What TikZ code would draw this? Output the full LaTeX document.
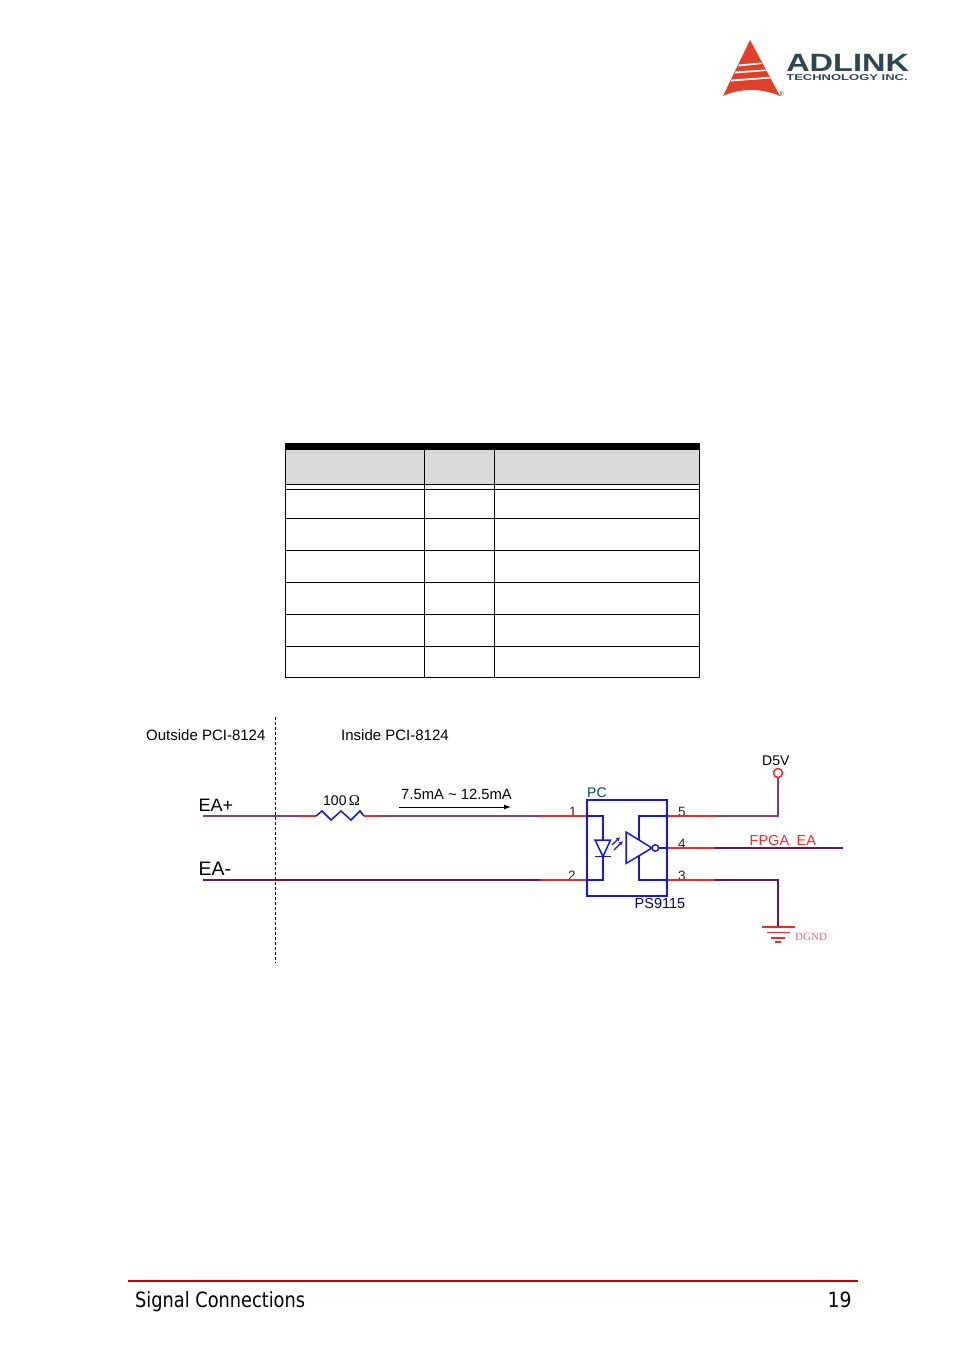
\documentclass[tikz,border=0pt]{standalone}
\usepackage{fontspec}
\usetikzlibrary{arrows.meta}
\setmainfont{Liberation Sans}
\newfontfamily\footfnt{DejaVu Sans Condensed}
\newfontfamily\serfnt{Liberation Serif}
\definecolor{wireA}{HTML}{8C3D66}
\definecolor{wireB}{HTML}{6E1748}
\definecolor{redw}{HTML}{F02828}
\definecolor{blu}{HTML}{1414F0}
\definecolor{grayh}{HTML}{D9D9D9}
\definecolor{logored}{HTML}{E0402A}
\definecolor{logotxt}{HTML}{2F4650}
\newcommand{\fsz}[1]{\fontsize{#1}{#1}\selectfont}
\tikzset{
 lbl/.style={inner sep=0pt,anchor=base west,text=black},
 wa/.style={draw=wireA,line width=1.6pt},
 wb/.style={draw=wireB,line width=1.6pt},
 wr/.style={draw=redw,line width=1.6pt},
 bl/.style={draw=blu,line width=1.5pt},
 tb/.style={draw=black,line width=1pt},
 term/.style={circle,draw=redw,line width=1.5pt,fill=white,minimum size=9pt,inner sep=0pt},
 bub/.style={circle,draw=blu,line width=1.4pt,fill=white,minimum size=6.5pt,inner sep=0pt},
}
\begin{document}
\begin{tikzpicture}[x=1pt,y=-1pt]
\useasboundingbox (0,0) rectangle (954,1352);
\fill[white] (0,0) rectangle (954,1352);
% logo
\fill[logored] (750,40) -- (780,96) .. controls (762,88) and (740,88) .. (723,96) -- cycle;
\fill[white] (739,64.5) -- (761,62.5) -- (762,64) -- (738,66.5) -- cycle;
\fill[white] (735.5,71.5) -- (765,69.5) -- (766,71) -- (734.5,73.5) -- cycle;
\fill[white] (731.5,79.5) -- (769,77) -- (770,78.5) -- (730.5,81.5) -- cycle;
\node[lbl,text=logotxt,xscale=1.3] (adl) at (786,71.5) {\fsz{25}\bfseries ADLINK};
\node[lbl,text=logotxt,xscale=1.53] (tech) at (786,80.5) {\fsz{8.5}\bfseries TECHNOLOGY INC.};
\node[lbl,text=logotxt] (reg) at (778.5,96) {\fsz{7}®};
% table
\fill[grayh] (285,450) rectangle (699.5,484);
\fill[black] (285,443) rectangle (700,450);
\coordinate (tl) at (285.5,450); \coordinate (tr) at (699.5,450);
\coordinate (bl1) at (285.5,677.5); \coordinate (br1) at (699.5,677.5);
\draw[tb] (tl) -- (bl1) -- (br1) -- (tr);
\draw[tb] (424.5,450) -- (424.5,677.5);
\draw[tb] (494.5,450) -- (494.5,677.5);
\foreach \yy in {484.5,489,518.5,550.5,582.5,614.5,646.5}
  \draw[tb] (285.5,\yy) -- (699.5,\yy);
% separator
\coordinate (sepT) at (275,717); \coordinate (sepB) at (275,963);
% labels
\node[lbl] (out) at (146,740) {\fsz{15}Outside PCI-8124};
\node[lbl] (ins) at (341,740) {\fsz{15}Inside PCI-8124};
\node[lbl] (eap) at (198.5,811) {\fsz{18}EA+};
\node[lbl] (eam) at (198.5,875) {\fsz{19.5}EA-};
\node[lbl] (ohm) at (323,805) {\fsz{14}100\,\serfnt\fsz{15}Ω};
\node[lbl] (cur) at (401,799) {\fsz{14.8}7.5mA \char"7E{} 12.5mA};
\node[lbl] (d5v) at (762,765) {\fsz{14}D5V};
\node[lbl,text=teal!60!black] (pc) at (587,797) {\fsz{14}PC};
\node[lbl,text=blue!50!black] (ps) at (634.5,908) {\fsz{14.5}PS9115};
\node[lbl,text=black!85] (p1) at (569,816) {\fsz{13.5}1};
\node[lbl,text=black!85] (p2) at (568,880) {\fsz{13.5}2};
\node[lbl,text=black!85] (p5) at (678,816) {\fsz{13.5}5};
\node[lbl,text=black!85] (p4) at (678,848) {\fsz{13.5}4};
\node[lbl,text=black!85] (p3) at (678,880) {\fsz{13.5}3};
\node[lbl,text=redw] (fpga) at (749.5,845) {\fsz{14.5}FPGA\hspace{3.5pt} EA};
\node[lbl,text=redw!70] (dgnd) at (795,940) {\serfnt\fsz{11}DGND};
\node[lbl,text=black,xscale=0.94] (sig) at (135,1307) {\footfnt\fsz{21}Signal Connections};
\node[lbl,text=black] (pg) at (827.5,1307) {\footfnt\fsz{21}19};
% junctions
\coordinate (ap) at (203,816); \coordinate (am) at (203,880);
\coordinate (r0) at (299,816); \coordinate (r1) at (316,816);
\coordinate (r2) at (364,816); \coordinate (r3) at (380,816);
\coordinate (w1) at (540,816); \coordinate (w2) at (540,880);
\coordinate (b1) at (587,816); \coordinate (b2) at (587,880);
\coordinate (b5) at (667,816); \coordinate (b4) at (667,848); \coordinate (b3) at (667,880);
\coordinate (q5) at (715,816); \coordinate (q4) at (715,848); \coordinate (q3) at (715,880);
\coordinate (end4) at (843,848);
\coordinate (gnd) at (778,927);
\coordinate (c5) at (778,816); \coordinate (c3) at (778,880);
\coordinate (a0) at (399,807); \coordinate (a1) at (511,807);
\node[term] (d5) at (778,773) {};
% wires
\draw[wa] (ap) -- (r0);
\draw[wr] (r0) -- (r1);
\draw[bl] (r1) -- ++(6,-5) -- ++(9,9) -- ++(10,-9) -- ++(10,9) -- ++(9,-9) -- (r2);
\draw[wr] (r2) -- (r3);
\draw[wa] (r3) -- (w1);
\draw[wr] (w1) -- (b1);
\draw[wb] (am) -- (w2);
\draw[wr] (w2) -- (b2);
\draw[wr] (b5) -- (q5);
\draw[wa] (q5) -- (c5) -- (d5);
\draw[wr,line width=2.4pt] (b4) -- (q4);
\draw[wb,line width=2.4pt] (q4) -- (end4);
\draw[wr] (b3) -- (q3);
\draw[wb] (q3) -- (c3) -- (gnd);
\draw[black,line width=1pt,dash pattern=on 3pt off 2pt] (sepT) -- (sepB);
\draw[black,line width=1pt,-{Latex[length=7pt,width=5pt]}] (a0) -- (a1);
% ground
\draw[redw,line width=1.1pt] (761.5,927) -- (795,927);
\draw[redw,line width=1.1pt] (767,932.5) -- (790,932.5);
\draw[redw,line width=1.1pt] (771,938) -- (785,938);
\draw[redw,line width=2pt] (775,942) -- (781,942);
% optocoupler
\node[draw=blu,rectangle,minimum width=80pt,minimum height=96pt,inner sep=0pt,line width=1.8pt] (pkg) at (627,848) {};
\draw[bl] (b1) -- (603,816) -- (603,880) -- (b2);
\draw[bl] (b5) -- (639,816) -- (639,840);
\draw[bl] (b3) -- (639,880) -- (639,855.7);
\draw[bl,fill=white] (595,840) -- (610.5,840) -- (603,856.5) -- cycle;
\draw[bl] (595,856.5) -- (611,856.5);
\draw[bl,line width=1.2pt,-{Latex[length=4pt,width=4pt]}] (612,845) -- (620,837);
\draw[bl,line width=1.2pt,-{Latex[length=4pt,width=4pt]}] (614,850) -- (623,841);
\draw[bl,fill=white] (626,832) -- (652,848) -- (626,863.5) -- cycle;
\node[bub] (bb) at (655.3,848) {};
\draw[bl] (bb) -- (b4);
% footer
\coordinate (fa) at (128,1280.5); \coordinate (fb) at (858,1280.5);
\draw[draw=red!80!black,line width=2pt] (fa) -- (fb);
\end{tikzpicture}
\end{document}
